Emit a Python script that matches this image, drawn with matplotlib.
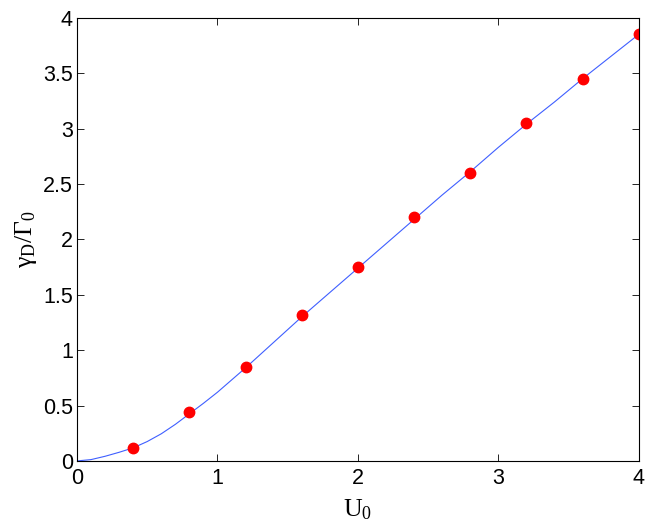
import numpy as np
import matplotlib
matplotlib.use('Agg')
import matplotlib.pyplot as plt

# markers (computed points)
u_pts = [0.4, 0.8, 1.2, 1.6, 2.0, 2.4, 2.8, 3.2, 3.6, 4.0]
gamma_pts = [0.12, 0.44, 0.85, 1.32, 1.75, 2.20, 2.60, 3.05, 3.45, 3.85]

# curve
u_line = [0.0, 0.1, 0.2, 0.3, 0.4, 0.5, 0.6, 0.7, 0.8, 0.9, 1.0, 1.2, 1.4, 1.6,
          1.8, 2.0, 2.2, 2.4, 2.6, 2.8, 3.0, 3.2, 3.4, 3.6, 3.8, 4.0]
gamma_line = [0.0, 0.012, 0.042, 0.078, 0.118, 0.175, 0.245, 0.33, 0.425, 0.52,
              0.62, 0.84, 1.07, 1.30, 1.52, 1.74, 1.96, 2.18, 2.40, 2.61, 2.83,
              3.04, 3.24, 3.45, 3.65, 3.85]

xticks = [0, 1, 2, 3, 4]
yticks = [0, 0.5, 1, 1.5, 2, 2.5, 3, 3.5, 4]
yticklabels = ['0', '0.5', '1', '1.5', '2', '2.5', '3', '3.5', '4']

plt.rcParams['mathtext.fontset'] = 'custom'
plt.rcParams['mathtext.rm'] = 'Liberation Serif'
plt.rcParams['mathtext.it'] = 'Liberation Serif'
plt.rcParams['mathtext.bf'] = 'Liberation Serif:bold'
plt.rcParams['font.family'] = ['Liberation Sans', 'DejaVu Sans']

fig = plt.figure(figsize=(6.64, 5.22), dpi=100)
ax = fig.add_axes([0.116, 0.117, 0.846, 0.849])

ax.plot(u_line, gamma_line, color='#3f5fff', lw=0.8)
ax.plot(u_pts, gamma_pts, 'o', color='red', markersize=7.5)

ax.set_xlim(0, 4)
ax.set_ylim(0, 4)
ax.set_xticks(xticks)
ax.set_yticks(yticks)
ax.set_xticklabels([str(t) for t in xticks])
ax.set_yticklabels(yticklabels)
ax.tick_params(direction='in', length=5, width=0.6, top=True, right=True,
               labelsize=15.5)
ax.tick_params(axis='y', pad=3)
ax.tick_params(axis='x', pad=5)
for s in ax.spines.values():
    s.set_linewidth(0.8)

ax.set_xlabel(r'$\mathrm{U}_0$', fontsize=18.5)
ax.set_ylabel(r'$\gamma_\mathrm{D}/\Gamma_0$', fontsize=18.5)
ax.xaxis.set_label_coords(0.5, -0.083)
ax.yaxis.set_label_coords(-0.068, 0.5)

fig.savefig('out.png', dpi=100)
